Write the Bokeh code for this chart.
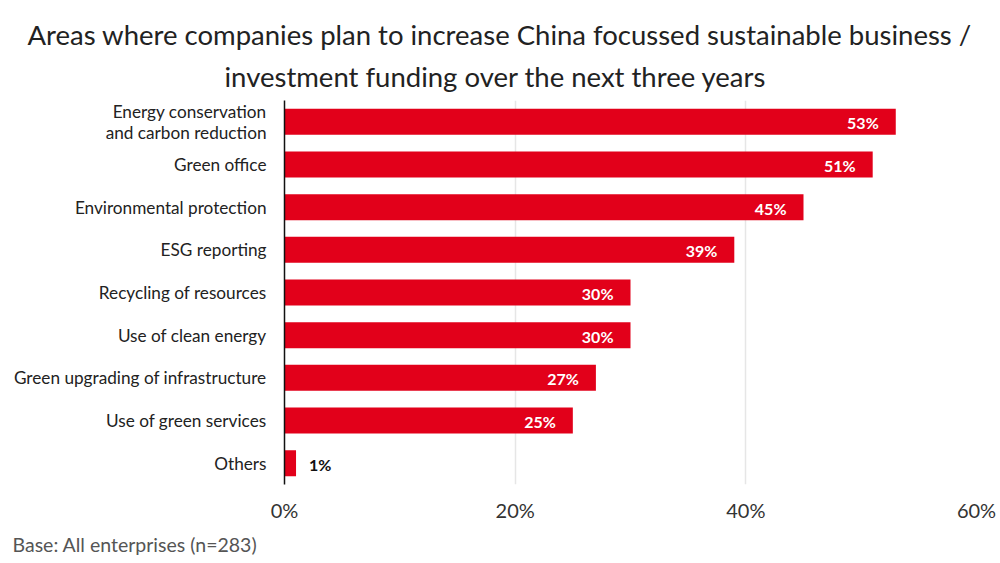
from bokeh.plotting import figure
from bokeh.models import Range1d, FactorRange, FixedTicker, PrintfTickFormatter, Title, ColumnDataSource
from bokeh.core.properties import value
from bokeh.embed import file_html
from bokeh.resources import INLINE

title_lines = ["Areas where companies plan to increase China focussed sustainable business /",
               "investment funding over the next three years"]
categories = ["Energy conservation\nand carbon reduction", "Green office", "Environmental protection",
              "ESG reporting", "Recycling of resources", "Use of clean energy",
              "Green upgrading of infrastructure", "Use of green services", "Others"]
values = [53, 51, 45, 39, 30, 30, 27, 25, 1]
x_ticks = [0, 20, 40, 60]
footer = "Base: All enterprises (n=283)"

RED = "#E2001A"
FONT = "Lato"

p = figure(width=1000, height=563, output_backend="svg", toolbar_location=None,
           y_range=FactorRange(factors=list(reversed(categories)), range_padding=0),
           x_range=Range1d(0, 60))
p.min_border_left = 284
p.min_border_right = 24
p.min_border_top = 100
p.min_border_bottom = 79
p.outline_line_color = None
p.background_fill_color = "white"
p.border_fill_color = "white"

src = ColumnDataSource(dict(cat=categories, val=values))
p.hbar(y="cat", right="val", left=0, height=0.61, source=src, fill_color=RED, line_color=None)

inside = [i for i, v in enumerate(values) if v >= 5]
outside = [i for i, v in enumerate(values) if v < 5]
src_in = ColumnDataSource(dict(cat=[categories[i] for i in inside], val=[values[i] for i in inside],
                               lab=[f"{values[i]}%" for i in inside]))
src_out = ColumnDataSource(dict(cat=[categories[i] for i in outside], val=[values[i] for i in outside],
                                lab=[f"{values[i]}%" for i in outside]))
p.text(x="val", y="cat", text="lab", source=src_in, x_offset=-17, y_offset=1,
       text_align="right", text_baseline="middle", text_color="white",
       text_font=value(FONT), text_font_style="bold", text_font_size="16px")
p.text(x="val", y="cat", text="lab", source=src_out, x_offset=13, y_offset=1,
       text_align="left", text_baseline="middle", text_color="#111111",
       text_font=value(FONT), text_font_style="bold", text_font_size="16px")

# grid
p.ygrid.grid_line_color = None
p.xgrid.ticker = FixedTicker(ticks=[20, 40, 60])
p.xgrid.grid_line_color = "#e6e6e6"
p.xgrid.grid_line_width = 1.5

# x axis
p.xaxis.ticker = FixedTicker(ticks=x_ticks)
p.xaxis.formatter = PrintfTickFormatter(format="%d%%")
p.xaxis.axis_line_color = None
p.xaxis.major_tick_line_color = None
p.xaxis.minor_tick_line_color = None
p.xaxis.major_label_text_font = FONT
p.xaxis.major_label_text_font_size = "20px"
p.xaxis.major_label_text_color = "#333333"
p.xaxis.major_label_standoff = 7

# y axis
p.yaxis.axis_line_color = "#111111"
p.yaxis.axis_line_width = 1.5
p.yaxis.major_tick_line_color = None
p.yaxis.minor_tick_line_color = None
p.yaxis.major_label_text_font = FONT
p.yaxis.major_label_text_font_size = "17.2px"
p.yaxis.major_label_text_color = "#222222"
p.yaxis.major_label_text_line_height = 1.0
p.yaxis.major_label_standoff = 12

# titles (added nearest-first) and footer
title_offsets = [-257, -60]
title_standoffs = [-2, 16]
for i in [1, 0]:
    p.add_layout(Title(text=title_lines[i], align="left", text_font=FONT, text_font_size="27.5px",
                       text_font_style="normal", text_color="#222222",
                       standoff=title_standoffs[i], offset=title_offsets[i]), "above")
p.add_layout(Title(text=footer, align="left", text_font=FONT, text_font_size="19.5px",
                   text_font_style="normal", text_color="#555555", offset=-272, standoff=12), "below")

open("out.html", "w").write(file_html(p, INLINE))
